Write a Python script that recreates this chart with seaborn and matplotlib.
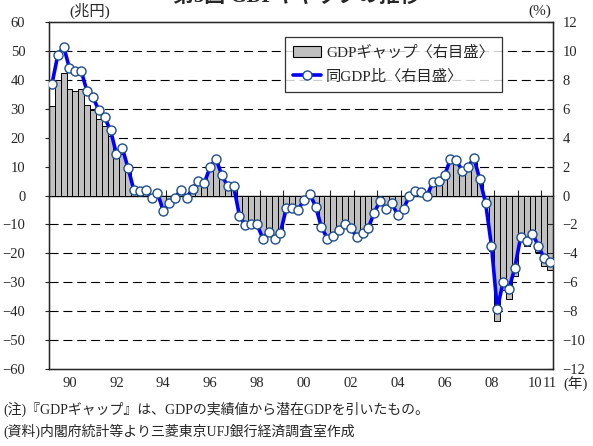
import numpy as np
import pandas as pd
import matplotlib
matplotlib.use("Agg")
import matplotlib.pyplot as plt
import seaborn as sns
from matplotlib.patches import Patch
from matplotlib.lines import Line2D

# quarterly data, 1990Q1 - 2011Q2
quarters = list(range(86))

# GDP gap (trillion yen, left axis)
gdp_gap = [31.0, 40.0, 42.5, 37.0, 36.3, 37.0, 31.2, 29.7, 26.4, 24.0,
           20.6, 13.7, 14.5, 8.5, 1.6, 1.4, 1.6, -0.7, 0.8, -4.8,
           -2.4, -0.9, 1.6, -0.8, 2.1, 4.7, 4.0, 9.2, 11.8, 6.5,
           3.1, 3.1, -6.6, -9.7, -9.5, -9.5, -14.2, -12.0, -14.3, -12.2,
           -4.2, -4.2, -4.8, -1.5, 0.6, -3.9, -11.2, -15.4, -14.6, -12.1,
           -10.4, -11.6, -14.9, -13.5, -11.7, -6.2, -2.0, -4.8, -2.8, -7.1,
           -4.8, -0.2, 1.6, 1.3, -0.1, 5.0, 5.4, 7.6, 13.6, 13.2,
           9.3, 10.7, 14.1, 6.2, -2.8, -19.1, -43.5, -32.5, -35.9, -27.8,
           -15.5, -17.4, -14.5, -19.4, -24.4, -25.8]

# GDP gap ratio (% of GDP, right axis)
gap_ratio = [7.7, 9.7, 10.3, 8.8, 8.6, 8.6, 7.2, 6.8, 5.9, 5.4,
             4.5, 2.9, 3.3, 1.9, 0.35, 0.3, 0.35, -0.14, 0.2, -1.05,
             -0.55, -0.16, 0.4, -0.16, 0.48, 1.02, 0.86, 1.98, 2.53, 1.4,
             0.65, 0.67, -1.4, -2.05, -2.0, -2.0, -2.98, -2.5, -3.0, -2.56,
             -0.88, -0.88, -1.0, -0.3, 0.12, -0.77, -2.2, -2.98, -2.8, -2.35,
             -2.0, -2.23, -2.86, -2.58, -2.23, -1.19, -0.37, -0.91, -0.53, -1.35,
             -0.91, -0.05, 0.3, 0.23, -0.02, 0.93, 1.0, 1.4, 2.51, 2.44,
             1.72, 1.98, 2.6, 1.14, -0.51, -3.46, -7.84, -5.95, -6.44, -4.98,
             -2.84, -3.14, -2.63, -3.49, -4.33, -4.63]

year_labels = ["90", "92", "94", "96", "98", "00", "02", "04", "06", "08", "10", "11"]
year_label_pos = [3, 11, 19, 27, 35, 43, 51, 59, 67, 75, 82.4, 85]
year_bounds = [4 * k - 0.5 for k in range(1, 22)]

df = pd.DataFrame({"q": quarters, "gap": gdp_gap, "ratio": gap_ratio})

sns.set_style("white")
plt.rcParams["font.family"] = ["Liberation Serif", "Noto Sans CJK JP"]
plt.rcParams["font.size"] = 10.5
plt.rcParams["lines.scale_dashes"] = False

fig = plt.figure(figsize=(5.93, 4.46), dpi=100)
ax = fig.add_axes([0.0826, 0.1726, 0.8499, 0.778])

sns.barplot(data=df, x="q", y="gap", native_scale=True, width=1.0,
            color="#c0c0c0", saturation=1, edgecolor="black", linewidth=0.7,
            ax=ax, zorder=2)

ax.set_xlim(-0.5, 85.5)
ax.set_ylim(-60, 60)
ax.set_yticks(range(-60, 61, 10))
for v in range(-50, 51, 10):
    if v != 0:
        ax.axhline(v, color="black", lw=0.8, dashes=(6.5, 3.5), zorder=1)
ax.set_xticks(year_label_pos, year_labels)
ax.tick_params(axis="x", length=0, pad=6, labelsize=10.5)
ax.tick_params(axis="y", direction="out", length=3, width=0.8, labelsize=10.5, pad=14)
ax.set_xlabel("")
ax.set_ylabel("")
for s in ax.spines.values():
    s.set_color("black")
    s.set_linewidth(1.0)

# zero line with yearly ticks
sec = ax.secondary_xaxis(0.5)
sec.set_xticks(year_bounds)
sec.tick_params(axis="x", direction="out", length=4, width=0.8,
                labeltop=False, labelbottom=False)
sec.spines["top"].set_linewidth(1.0)
sec.spines["top"].set_color("black")

ax2 = ax.twinx()
sns.lineplot(data=df, x="q", y="ratio", ax=ax2, color="#0000ff", linewidth=2.6,
             marker="o", markersize=6.5, markerfacecolor="white",
             markeredgecolor="#1f4e8c", markeredgewidth=1.0, zorder=5)
ax2.set_ylim(-12, 12)
ax2.set_yticks(range(-12, 13, 2))
ax2.set_ylabel("")
ax2.tick_params(axis="y", direction="in", length=4, width=0.8, labelsize=10.5, pad=7)
ax2.set_xlim(-0.5, 85.5)

handles = [Patch(facecolor="#c0c0c0", edgecolor="black", linewidth=0.8),
           Line2D([], [], color="#0000ff", lw=2.6, marker="o", markersize=6.5,
                  markerfacecolor="white", markeredgecolor="#1f4e8c")]
leg = ax2.legend(handles, ["GDPギャップ〈右目盛〉", "同GDP比〈右目盛〉"],
                 loc="upper right", bbox_to_anchor=(0.899, 0.957),
                 borderaxespad=0, frameon=True, fancybox=False,
                 edgecolor="black", handlelength=1.8, labelspacing=0.6,
                 borderpad=0.55, handletextpad=0.35, fontsize=11)
leg.get_frame().set_linewidth(0.9)

fig.text(0.5, 1 - 7 / 446, "第5図 GDPギャップの推移", ha="center", va="bottom",
         fontsize=15, fontweight="bold")
fig.text(90 / 593, 1 - 11 / 446, "(兆円)", ha="center", va="center", fontsize=11)
fig.text(540 / 593, 1 - 11 / 446, "(%)", ha="center", va="center", fontsize=11)
fig.text(576 / 593, 1 - 384 / 446, "(年)", ha="center", va="center", fontsize=10.5)
fig.text(3 / 593, 1 - 409 / 446, "(注)『GDPギャップ』は、GDPの実績値から潜在GDPを引いたもの。",
         ha="left", va="center", fontsize=10)
fig.text(3 / 593, 1 - 431 / 446, "(資料)内閣府統計等より三菱東京UFJ銀行経済調査室作成",
         ha="left", va="center", fontsize=10)

fig.savefig("out.png", dpi=100)
